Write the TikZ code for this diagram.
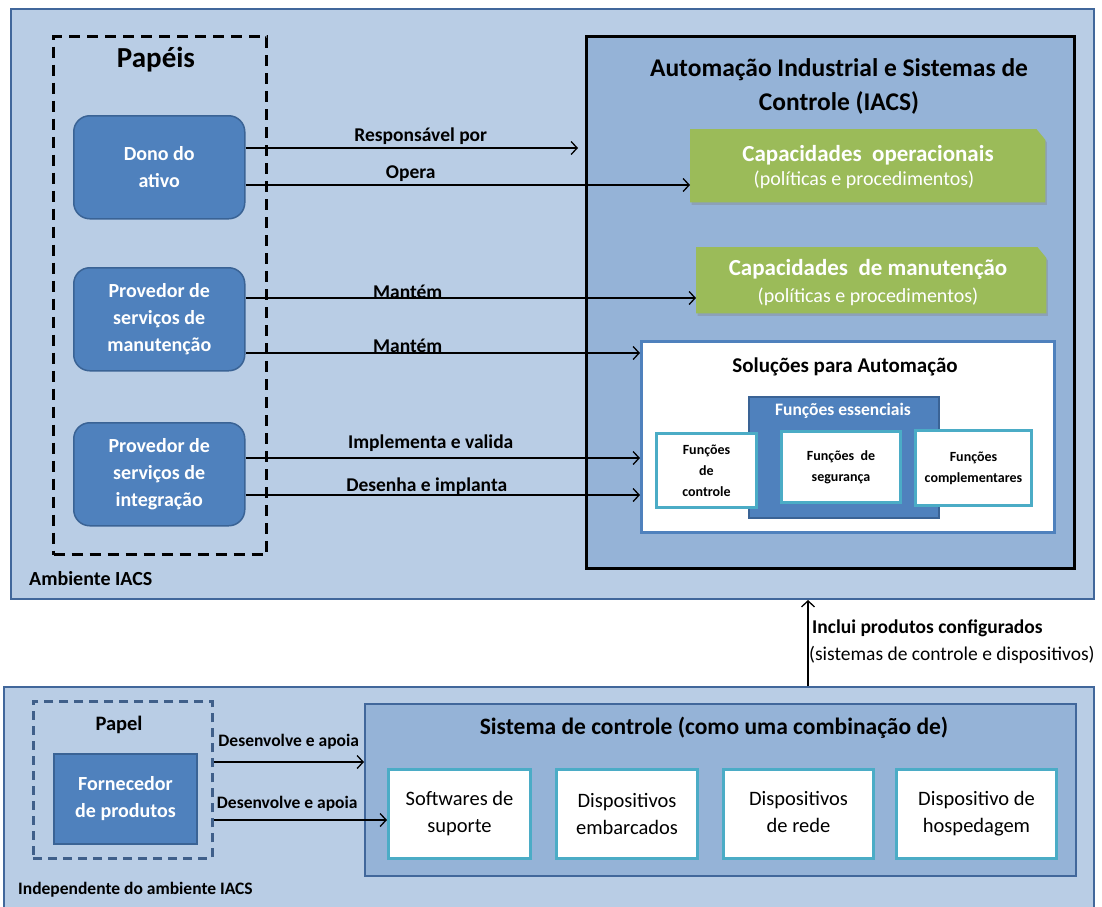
\documentclass[tikz,border=0pt]{standalone}
\usepackage{fontspec}
\setmainfont{Carlito}
\usetikzlibrary{arrows.meta,shadows}

\definecolor{envfill}{HTML}{B9CDE5}
\definecolor{envline}{HTML}{41679B}
\definecolor{midfill}{HTML}{95B3D7}
\definecolor{rolefill}{HTML}{4F81BD}
\definecolor{roleline}{HTML}{3A6395}
\definecolor{capgreen}{HTML}{9BBB59}
\definecolor{tealline}{HTML}{4BACC6}
\definecolor{papelline}{HTML}{3F5F8A}

\newcommand\fsz[2]{\fontsize{#1}{#2}\selectfont}

\tikzset{
  box/.style={rectangle, anchor=north west, inner sep=0pt, align=center},
  envbox/.style={box, fill=envfill, draw=envline, line width=2pt},
  rolebox/.style={box, rounded corners=16pt, fill=rolefill, draw=roleline, line width=1.5pt,
    text=white, font=\bfseries\fsz{20}{27}},
  capshape/.style={fill=capgreen,
    drop shadow={shadow xshift=1.5pt, shadow yshift=-2.5pt, opacity=0.35}},
  captext/.style={inner sep=0pt, align=center, text=white},
  funcbox/.style={box, fill=white, draw=tealline, line width=3pt, font=\bfseries\fsz{14}{21}},
  devbox/.style={box, fill=white, draw=tealline, line width=3pt, font=\fsz{20.5}{27}},
  lbl/.style={inner sep=0pt, font=\bfseries\fsz{19.5}{22}},
  arr/.style={line width=1.3pt, -{Straight Barb[length=6pt,width=13pt,line width=1.3pt]}},
}

% green capability panel with a clipped top-right corner
\newcommand\cappanel[1]{%
  \fill[capshape] (#1.north west) -- ([xshift=-9pt]#1.north east)
    -- ([yshift=-11pt]#1.north east) -- (#1.south east) -- (#1.south west) -- cycle;}

\begin{document}
\begin{tikzpicture}[x=1pt,y=-1pt]
\useasboundingbox (0,0) rectangle (1102,906);

% ---------- IACS environment ----------
\node[envbox, minimum width=1083pt, minimum height=590pt] (env) at (10,8) {};
\node[box, draw=black, line width=3pt, dash pattern=on 11pt off 7pt,
      minimum width=213pt, minimum height=518pt] (papeis) at (52,35) {};
\node[inner sep=0pt, font=\bfseries\fsz{29}{34}] (papeistit) at (156,60) {Papéis};

\node[rolebox, minimum width=171pt, minimum height=103pt] (dono) at (73,115) {Dono do\\ativo};
\node[rolebox, minimum width=171pt, minimum height=103pt] (manut) at (73,267)
  {Provedor de\\serviços de\\manutenção};
\node[rolebox, minimum width=171pt, minimum height=103pt] (integ) at (73,422)
  {Provedor de\\serviços de\\integração};
\node[lbl, anchor=west, font=\bfseries\fsz{20}{22}] (amb) at (29,579) {Ambiente IACS};

\node[box, fill=midfill, draw=black, line width=3pt,
      minimum width=488pt, minimum height=532pt] (iacs) at (585,35) {};
\node[inner sep=0pt, align=center, font=\bfseries\fsz{25.5}{34}] (iacstit) at (839,86)
  {Automação Industrial e Sistemas de\\Controle (IACS)};

% capabilities (policies and procedures)
\node[box, minimum width=355pt, minimum height=73pt] (capop) at (690,129) {};
\cappanel{capop}
\node[captext, font=\bfseries\fsz{23}{25}] (capoptit) at (868,155) {Capacidades\ \ operacionais};
\node[captext, font=\fsz{20}{22}] (capopsub) at (864,180) {(políticas e procedimentos)};
\node[box, minimum width=350pt, minimum height=66pt] (capman) at (696,247) {};
\cappanel{capman}
\node[captext, font=\bfseries\fsz{23}{25}] (capmantit) at (868,269) {Capacidades\ \ de manutenção};
\node[captext, font=\fsz{20}{22}] (capmansub) at (868,297) {(políticas e procedimentos)};

% automation solutions
\node[box, fill=white, draw=rolefill, line width=3pt,
      minimum width=413pt, minimum height=191pt] (solu) at (640,340) {};
\node[inner sep=0pt, font=\bfseries\fsz{21}{24}] (solutit) at (845,367) {Soluções para\ Automação};

\node[box, fill=rolefill, draw=roleline, line width=2pt,
      minimum width=190pt, minimum height=121pt] (essen) at (748,396) {};
\node[inner sep=0pt, text=white, font=\bfseries\fsz{17.5}{20}] (essentit) at (843,411) {Funções essenciais};

\node[funcbox, minimum width=100pt, minimum height=74pt] (fctrl) at (655,432) {Funções\\de\\controle};
\node[funcbox, minimum width=119pt, minimum height=71pt] (fseg) at (780,430) {Funções\ \ de\\segurança};
\node[funcbox, minimum width=116pt, minimum height=75pt] (fcomp) at (914,429) {Funções\\complementares};

% relations of the roles
\draw[arr] (dono.east |- 0,148) -- node[lbl, above=3pt, xshift=9pt] (l1) {Responsável por} ([xshift=-7pt]iacs.west |- 0,148);
\draw[arr] (dono.east |- 0,185) -- node[lbl, above=3pt, xshift=-57pt] (l2) {Opera} (capop.west |- 0,185);
\draw[arr] (manut.east |- 0,298) -- node[lbl, above=-1pt, xshift=-63pt] (l3) {Mantém} (capman.west |- 0,298);
\draw[arr] (manut.east |- 0,353) -- node[lbl, above=0pt, xshift=-35pt] (l4) {Mantém} (solu.west |- 0,353);
\draw[arr] (integ.east |- 0,458) -- node[lbl, above=6pt, xshift=-12pt] (l5) {Implementa e valida} (solu.west |- 0,458);
\draw[arr] (integ.east |- 0,495) -- node[lbl, above=0pt, xshift=-16pt] (l6) {Desenha e implanta} (solu.west |- 0,495);

% ---------- outside the IACS environment ----------
\node[envbox, minimum width=1090pt, minimum height=240pt] (indep) at (3,686) {};
\node[box, draw=papelline, line width=2.5pt, dash pattern=on 9pt off 6pt,
      minimum width=179pt, minimum height=157pt] (papel) at (32,700) {};
\node[inner sep=0pt, font=\bfseries\fsz{20.5}{22}] (papeltit) at (119,725) {Papel};
\node[box, fill=rolefill, draw=roleline, line width=2pt, text=white, font=\bfseries\fsz{20}{27},
      minimum width=143pt, minimum height=90pt] (forn) at (53,753) {Fornecedor\\de produtos};

\node[box, fill=midfill, draw=envline, line width=2pt,
      minimum width=711pt, minimum height=172pt] (sist) at (364,703) {};
\node[inner sep=0pt, font=\bfseries\fsz{23.5}{26}] (sisttit) at (714,728)
  {Sistema de controle (como uma combinação\ de)};

\node[devbox, minimum width=142pt, minimum height=89pt] (soft) at (387,768) {Softwares de\\suporte};
\node[devbox, minimum width=141pt, minimum height=89pt] (emb) at (555,768) {Dispositivos\\embarcados};
\node[devbox, minimum width=150pt, minimum height=89pt] (rede) at (722,768) {Dispositivos\\de rede\vphantom{g}};
\node[devbox, minimum width=160pt, minimum height=89pt] (host) at (895,768) {Dispositivo de\\hospedagem};

\node[lbl, anchor=west, font=\bfseries\fsz{17.5}{20}] (indeplbl) at (18,890) {Independente do ambiente IACS};

\draw[arr] (papel.east |- 0,762) -- node[lbl, above=12pt, font=\bfseries\fsz{17.5}{20}] (l7) {Desenvolve e apoia} (sist.west |- 0,762);
\draw[arr] (papel.east |- 0,820) -- node[lbl, above=8pt, xshift=-13pt, font=\bfseries\fsz{17.5}{20}] (l8) {Desenvolve e apoia} (soft.west |- 0,820);

% configured products feed the IACS
\draw[arr] (indep.north -| 808,0) -- (env.south -| 808,0);
\node[lbl, anchor=west] (incl1) at (812,628) {Inclui produtos configurados};
\node[inner sep=0pt, anchor=west, font=\fsz{19.5}{22}] (incl2) at (809,655) {(sistemas de controle e dispositivos)};
\end{tikzpicture}
\end{document}
